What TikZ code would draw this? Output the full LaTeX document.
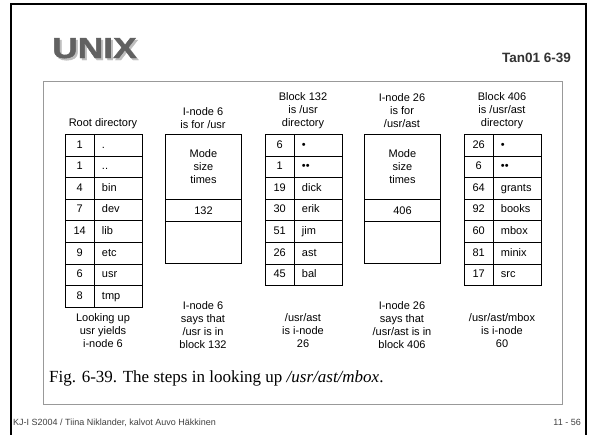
\documentclass[tikz,border=0pt]{standalone}
\usepackage{fontspec}
\setmainfont{Liberation Sans}
\newfontfamily\capfont{Liberation Serif}
\newfontfamily\unixfont{Liberation Sans Bold}[FakeStretch=1.22, FakeBold=1.5]
\newcommand{\labfont}{\fontsize{11}{13}\selectfont}
\begin{document}
\begin{tikzpicture}[x=1pt,y=-1pt,
  cellbase/.style={draw, line width=0.9pt, inner sep=0pt, minimum height=21.6pt, text height=8pt, text depth=2.4pt, anchor=north west, font=\labfont},
  numcell/.style={cellbase, minimum width=28.5pt},
  namecell/.style={cellbase, text width=32pt, inner xsep=8pt, align=left},
  ibox/.style={draw, line width=0.9pt, inner sep=0pt, minimum width=76pt, anchor=north west, align=center, font=\labfont},
  lab/.style={align=center, font=\labfont, inner sep=0pt}]
\useasboundingbox (0,0) rectangle (593,434);
\fill[white] (0,0) rectangle (593,434);
% frames
\draw[line width=2pt] (11,4) rectangle (586,460);
\draw[black!40, line width=0.9pt] (43,81) rectangle (562,404);
% title
\node[anchor=base west, inner sep=0pt, text=black!25, font=\unixfont\fontsize{29}{32}\selectfont] (unixsh) at (54,60) {UNIX};
\node[anchor=base west, inner sep=0pt, text=black!62, font=\unixfont\fontsize{29}{32}\selectfont] (unix) at (52,58) {UNIX};
\node[anchor=base east, inner sep=0pt, text=black!80, font=\bfseries\fontsize{13.5}{15}\selectfont] (tan) at (571,62) {Tan01 6-39};
% headers
\node[lab] (h1) at (103,124) {Root directory};
\node[lab] (h2) at (203,118.5) {I-node 6\\is for /usr};
\node[lab] (h3) at (303,111) {Block 132\\is /usr\\directory};
\node[lab] (h4) at (402,111) {I-node 26\\is for\\/usr/ast};
\node[lab] (h5) at (502,111) {Block 406\\is /usr/ast\\directory};
% root directory
\foreach \n/\t [count=\i from 0] in {1/., 1/.., 4/bin, 7/dev, 14/lib, 9/etc, 6/usr, 8/tmp} {
  \node[numcell] (rn\i) at (65,134+\i*21.6) {\n};
  \node[namecell] (rt\i) at (93.5,134+\i*21.6) {\t};
}
% block 132
\foreach \n/\t [count=\i from 0] in {6/•, 1/••, 19/dick, 30/erik, 51/jim, 26/ast, 45/bal} {
  \node[numcell] (an\i) at (265,134+\i*21.6) {\n};
  \node[namecell] (at\i) at (293.5,134+\i*21.6) {\t};
}
% block 406
\foreach \n/\t [count=\i from 0] in {26/•, 6/••, 64/grants, 92/books, 60/mbox, 81/minix, 17/src} {
  \node[numcell] (bn\i) at (464,134+\i*21.6) {\n};
  \node[namecell] (bt\i) at (492.5,134+\i*21.6) {\t};
}
% i-nodes
\node[ibox, minimum height=65pt] (i6a) at (165,134) {Mode\\size\\times};
\node[ibox, minimum height=22pt] (i6b) at (165,199) {132};
\node[ibox, minimum height=42pt] (i6c) at (165,221) {};
\node[ibox, minimum height=65pt] (i26a) at (364,134) {Mode\\size\\times};
\node[ibox, minimum height=22pt] (i26b) at (364,199) {406};
\node[ibox, minimum height=42pt] (i26c) at (364,221) {};
% bottom labels
\node[lab] (f1) at (103,331) {Looking up\\usr yields\\i-node 6};
\node[lab] (f2) at (203,325) {I-node 6\\says that\\/usr is in\\block 132};
\node[lab] (f3) at (303,331) {/usr/ast\\is i-node\\26};
\node[lab] (f4) at (402,325) {I-node 26\\says that\\/usr/ast is in\\block 406};
\node[lab] (f5) at (502,331) {/usr/ast/mbox\\is i-node\\60};
% caption
\node[anchor=base west, inner sep=0pt, font=\capfont\fontsize{17}{20}\selectfont] (cap) at (49,382) {Fig. 6-39. The steps in looking up \textit{/usr/ast/mbox}.};
% footer
\node[anchor=base west, inner sep=0pt, text=black!75, font=\fontsize{9}{10}\selectfont] (foot) at (13,425) {KJ-I S2004 / Tiina Niklander, kalvot Auvo Häkkinen};
\node[anchor=base east, inner sep=0pt, text=black!75, font=\fontsize{9}{10}\selectfont] (page) at (581,425) {11 - 56};
\end{tikzpicture}
\end{document}
